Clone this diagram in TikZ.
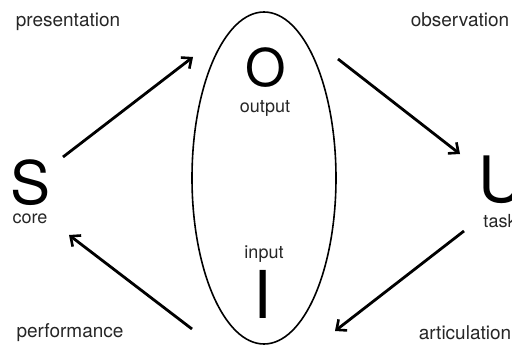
\documentclass[tikz,border=0pt]{standalone}
\usepackage{fontspec}
\setmainfont{TeX Gyre Heros}
\usetikzlibrary{arrows.meta, positioning}

\tikzset{
    stage/.style={font=\fontsize{19}{22}\selectfont, text=black!85},
    small/.style={font=\fontsize{18}{21}\selectfont, text=black!85, inner sep=1pt},
    letter/.style={inner sep=0pt},
    flow/.style={line width=2.8pt, -{Straight Barb[length=8pt, width=14pt, line width=2.6pt]}}
}

\begin{document}
\begin{tikzpicture}[x=1pt, y=-1pt]
    \useasboundingbox (0, 0) rectangle (512, 345);

    % Central ellipse
    \draw[line width=1.6pt] (264, 178) ellipse [x radius=72, y radius=166];

    % Letters and their words
    \node[letter, font=\fontsize{52}{52}\selectfont] (O) at (266, 68) {O};
    \node[small] (output) at (265, 108) {output};
    \node[letter, font=\fontsize{60}{60}\selectfont] (S) at (31, 183) {S};
    \node[small] (core) at (30, 219) {core};
    \node[letter, font=\fontsize{64}{64}\selectfont] (U) at (502, 180) {U};
    \node[small] (task) at (500, 221) {task};
    \node[letter, font=\fontsize{66}{66}\selectfont] (I) at (263, 294) {I};
    \node[small] (input) at (264, 254) {input};

    % Corner words
    \node[stage] (presentation) at (68, 22) {presentation};
    \node[stage] (observation) at (460, 20) {observation};
    \node[stage] (performance) at (70, 333) {performance};
    \node[stage] (articulation) at (465, 333) {articulation};

    % Arrow ends
    \coordinate (s out) at (63, 157);
    \coordinate (o in) at (193, 57);
    \coordinate (o out) at (338, 59);
    \coordinate (u in) at (460, 154);
    \coordinate (u out) at (464, 231);
    \coordinate (i in) at (335, 331);
    \coordinate (i out) at (192, 329);
    \coordinate (s in) at (69, 235);

    % Cycle
    \draw[flow] (s out) -- (o in);
    \draw[flow] (o out) -- (u in);
    \draw[flow] (u out) -- (i in);
    \draw[flow] (i out) -- (s in);
\end{tikzpicture}
\end{document}
